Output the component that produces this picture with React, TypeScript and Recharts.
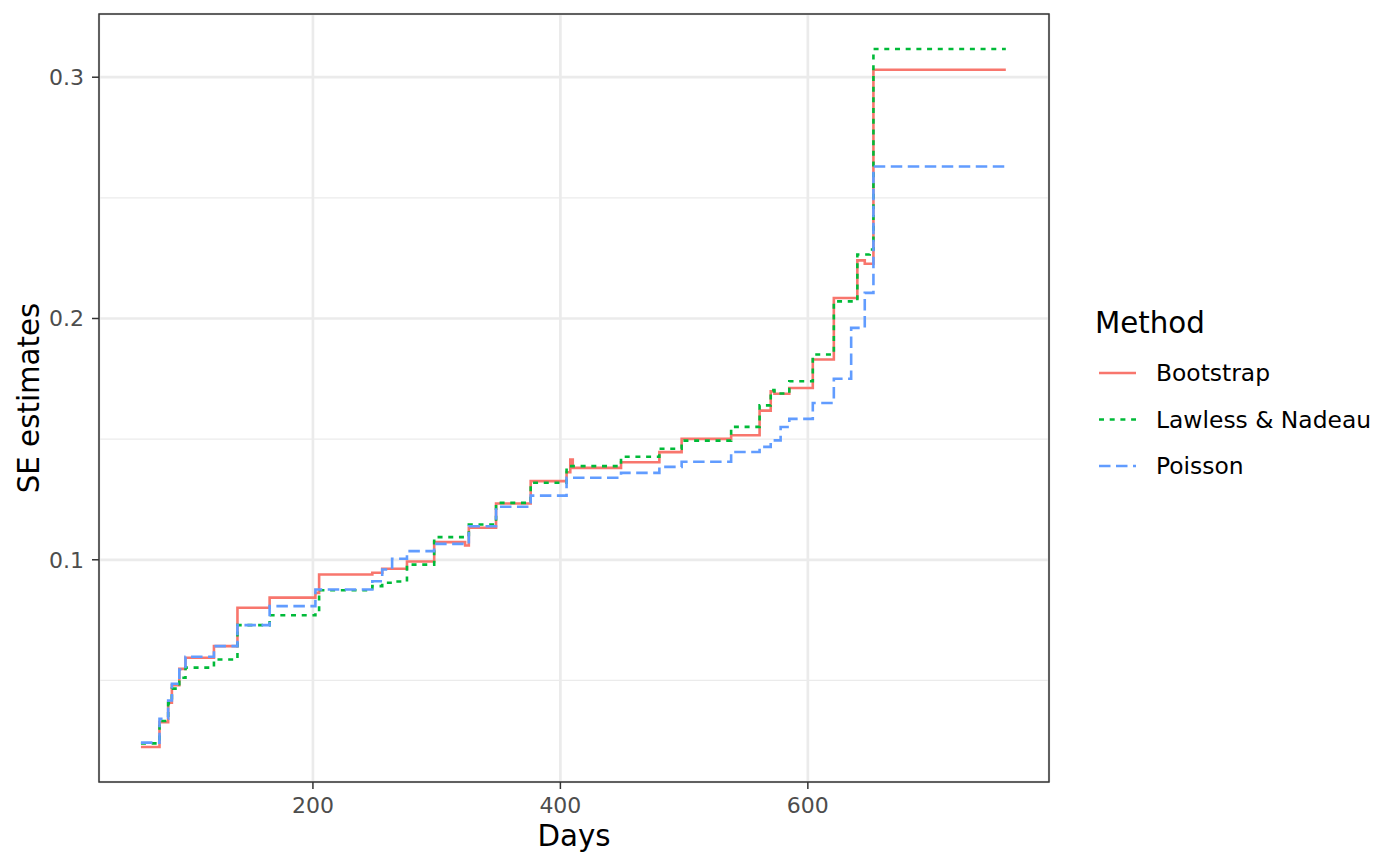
import {
  LineChart,
  Line,
  XAxis,
  YAxis,
  CartesianGrid,
  ReferenceArea,
  Label,
} from "recharts";

// event times (days) and the SE estimate of each method at those times
const days = [
  61, 76, 83, 86, 92, 97, 120, 139, 165, 202, 205, 248, 256, 264, 276, 298,
  323, 326, 348, 376, 405, 408, 410, 449, 480, 498, 538, 561, 570, 573, 578,
  585, 604, 621, 635, 640, 646, 650, 653, 760,
];
const bootstrap = [
  0.0224, 0.0327, 0.0408, 0.048, 0.0548, 0.0594, 0.0642, 0.0801, 0.0843,
  0.0863, 0.0939, 0.0946, 0.0963, 0.0963, 0.0993, 0.1073, 0.1059, 0.1133,
  0.1233, 0.1326, 0.1363, 0.1415, 0.1381, 0.1404, 0.1446, 0.1501, 0.1516,
  0.1618, 0.1698, 0.1688, 0.1688, 0.1712, 0.183, 0.2085, 0.2085, 0.2241,
  0.2227, 0.2227, 0.3031, 0.3031,
];
const lawless = [
  0.0239, 0.0332, 0.0405, 0.0466, 0.0511, 0.0553, 0.0587, 0.0729, 0.077,
  0.0783, 0.0874, 0.0891, 0.0905, 0.091, 0.098, 0.1094, 0.1094, 0.1146,
  0.1236, 0.1319, 0.1388, 0.1388, 0.1388, 0.1427, 0.146, 0.1494, 0.1551,
  0.164, 0.1703, 0.1689, 0.1689, 0.174, 0.1851, 0.2071, 0.2071, 0.2265,
  0.2265, 0.2286, 0.3117, 0.3117,
];
const poisson = [
  0.0242, 0.0341, 0.0417, 0.0486, 0.0545, 0.0598, 0.0642, 0.0729, 0.0808,
  0.0877, 0.0877, 0.0911, 0.096, 0.1004, 0.1036, 0.1066, 0.1066, 0.1139,
  0.122, 0.1266, 0.134, 0.134, 0.134, 0.136, 0.1385, 0.1406, 0.1447, 0.1468,
  0.1495, 0.1495, 0.155, 0.1584, 0.165, 0.175, 0.1961, 0.1961, 0.2106,
  0.2106, 0.263, 0.263,
];

const xTicks = [200, 400, 600];
const xMinor = [100, 300, 500, 700];
const yTicks = [0.1, 0.2, 0.3];
const yMinor = [0.05, 0.15, 0.25];

const xDomain: [number, number] = [27.1, 794.9];
const yDomain: [number, number] = [0.0079, 0.3262];

const series = [
  { key: "bootstrap", name: "Bootstrap", color: "#F8766D", dash: undefined },
  { key: "lawless", name: "Lawless & Nadeau", color: "#00BA38", dash: "5 5.7" },
  { key: "poisson", name: "Poisson", color: "#619CFF", dash: "11.5 5.5" },
];

const data = days.map((d, i) => ({
  day: d,
  bootstrap: bootstrap[i],
  lawless: lawless[i],
  poisson: poisson[i],
}));

const font = "'DejaVu Sans', sans-serif";
const tickStyle = { fill: "#4D4D4D", fontSize: 22, fontFamily: font };

export default function App() {
  return (
    <div style={{ position: "absolute", left: 0, top: 0, width: 1400, height: 866, background: "#fff" }}>
      <LineChart
        width={1400}
        height={866}
        data={data}
        margin={{ top: 14, right: 351, left: 0, bottom: 0 }}
      >
        <XAxis xAxisId="minor" type="number" domain={xDomain} ticks={xMinor} hide allowDataOverflow />
        <YAxis yAxisId="minor" type="number" domain={yDomain} ticks={yMinor} hide allowDataOverflow />
        <CartesianGrid xAxisId="minor" yAxisId="minor" stroke="#EBEBEB" strokeWidth={1.4} />
        <CartesianGrid stroke="#EBEBEB" strokeWidth={2.7} />
        <XAxis
          dataKey="day"
          type="number"
          domain={xDomain}
          ticks={xTicks}
          allowDataOverflow
          height={84}
          axisLine={false}
          tickSize={7}
          tickMargin={8}
          tickLine={{ stroke: "#333333", strokeWidth: 1.5 }}
          tick={tickStyle}
        >
          <Label
            content={(props: any) => {
              const vb = props.viewBox || { x: 99, y: 782, width: 950, height: 84 };
              return (
                <text
                  x={vb.x + vb.width / 2}
                  y={vb.y + 64}
                  textAnchor="middle"
                  fontSize={29.3}
                  fontFamily={font}
                  fill="#000"
                >
                  Days
                </text>
              );
            }}
          />
        </XAxis>
        <YAxis
          type="number"
          domain={yDomain}
          ticks={yTicks}
          allowDataOverflow
          width={99}
          axisLine={false}
          tickSize={7}
          tickMargin={8}
          tickLine={{ stroke: "#333333", strokeWidth: 1.5 }}
          tick={tickStyle}
        >
          <Label
            content={(props: any) => {
              const vb = props.viewBox || { x: 0, y: 14, width: 99, height: 768 };
              const cx = vb.x + 39;
              const cy = vb.y + vb.height / 2;
              return (
                <text
                  x={cx}
                  y={cy}
                  transform={`rotate(-90 ${cx} ${cy})`}
                  textAnchor="middle"
                  fontSize={29.3}
                  fontFamily={font}
                  fill="#000"
                >
                  SE estimates
                </text>
              );
            }}
          />
        </YAxis>
        {series.map((s) => (
          <Line
            key={s.key}
            dataKey={s.key}
            name={s.name}
            type="stepAfter"
            stroke={s.color}
            strokeWidth={2.6}
            strokeDasharray={s.dash}
            dot={false}
            activeDot={false}
            isAnimationActive={false}
          />
        ))}
        <ReferenceArea
          x1={xDomain[0]}
          x2={xDomain[1]}
          y1={yDomain[0]}
          y2={yDomain[1]}
          fill="none"
          fillOpacity={0}
          stroke="#333333"
          strokeWidth={1.5}
        />
      </LineChart>

      {/* legend */}
      <svg
        width={1400}
        height={866}
        style={{ position: "absolute", left: 0, top: 0, pointerEvents: "none" }}
      >
        <text x={1095} y={333} fontSize={29.3} fontFamily={font} fill="#000">
          Method
        </text>
        {series.map((s, i) => {
          const cy = 373 + i * 46.5;
          return (
            <g key={s.key}>
              <line
                x1={1099}
                x2={1136}
                y1={cy}
                y2={cy}
                stroke={s.color}
                strokeWidth={2.6}
                strokeDasharray={s.dash}
              />
              <text x={1156} y={cy + 8.4} fontSize={23.4} fontFamily={font} fill="#000">
                {s.name}
              </text>
            </g>
          );
        })}
      </svg>
    </div>
  );
}
